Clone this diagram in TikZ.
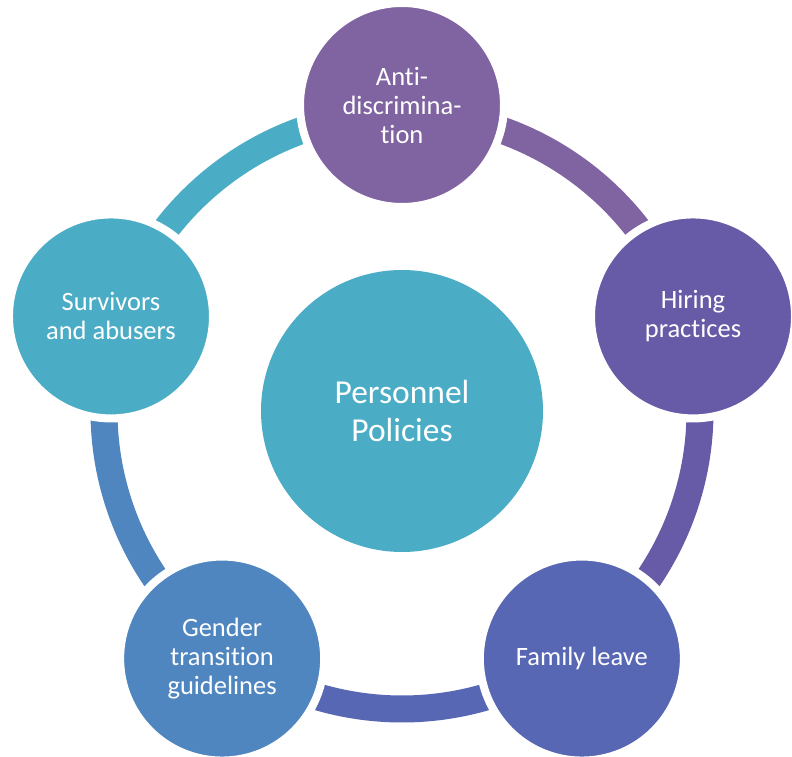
\documentclass[tikz,border=0pt]{standalone}
\usepackage{fontspec}
\setmainfont{Carlito}[Ligatures=NoCommon]
\usetikzlibrary{calc}
\definecolor{cTeal}{HTML}{4BACC6}
\definecolor{cBlue}{HTML}{4F86BF}
\definecolor{cIndigo}{HTML}{5867B3}
\definecolor{cViolet}{HTML}{675BA8}
\definecolor{cPurple}{HTML}{8064A2}
\begin{document}
\begin{tikzpicture}[x=1pt,y=1pt,
  outer/.style={circle, minimum size=204pt, inner sep=0pt, draw=white, line width=8pt,
    text=white, align=center, font=\fontsize{26.5}{29}\selectfont},
  hub/.style={circle, minimum size=282pt, inner sep=0pt, fill=cTeal,
    text=white, align=center, font=\fontsize{33.5}{38}\selectfont},
  seg/.style={line width=27pt, line cap=butt}]
\useasboundingbox (0,0) rectangle (792,757);
\coordinate (ctr) at (402,346);
% ring segments
\draw[seg, cTeal]   ([shift={(162:298pt)}]ctr) arc[start angle=162, end angle=90,   radius=298pt];
\draw[seg, cPurple] ([shift={(90:298pt)}]ctr)  arc[start angle=90,  end angle=18,   radius=298pt];
\draw[seg, cViolet] ([shift={(18:298pt)}]ctr)  arc[start angle=18,  end angle=-54,  radius=298pt];
\draw[seg, cIndigo] ([shift={(-54:298pt)}]ctr) arc[start angle=-54, end angle=-126, radius=298pt];
\draw[seg, cBlue]   ([shift={(-126:298pt)}]ctr) arc[start angle=-126, end angle=-198, radius=298pt];
% centre
\node[hub] (hub) at (ctr) {Personnel\\Policies};
% outer circles
\node[outer, fill=cPurple] (anti) at ([shift={(90:306pt)}]ctr) {Anti-\\discrimina-\\tion};
\node[outer, fill=cViolet] (hire) at ([shift={(18:306pt)}]ctr) {Hiring\\practices};
\node[outer, fill=cIndigo] (fam) at ([shift={(-54:306pt)}]ctr) {Family leave};
\node[outer, fill=cBlue] (gend) at ([shift={(-126:306pt)}]ctr) {Gender\\transition\\guidelines};
\node[outer, fill=cTeal] (surv) at ([shift={(162:306pt)}]ctr) {Survivors\\and abusers};
\end{tikzpicture}
\end{document}
